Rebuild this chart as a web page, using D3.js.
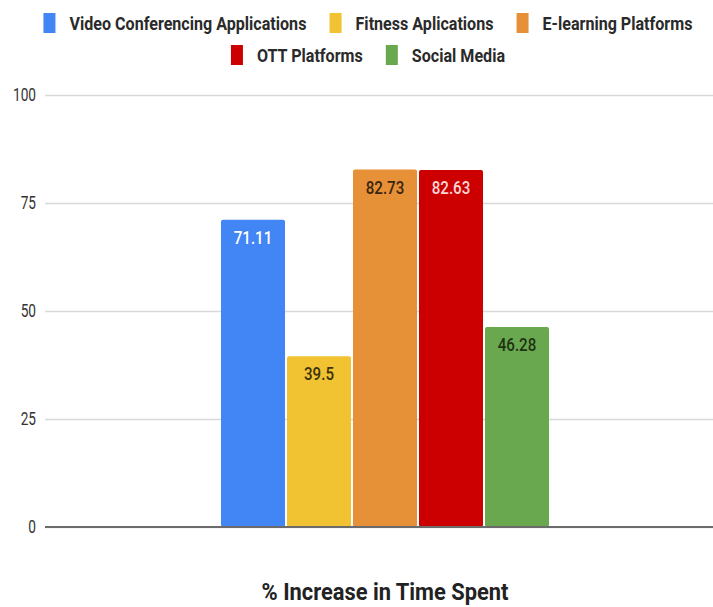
<!DOCTYPE html>
<html>
<head>
<meta charset="utf-8">
<script src="https://cdn.jsdelivr.net/npm/d3@7"></script>
<style>
  body { margin: 0; background: #fff; }
  text { font-family: Roboto, "Liberation Sans", sans-serif; }
</style>
</head>
<body>
<div class="canvas"></div>
<script>
// data
const series = ['Video Conferencing Applications', 'Fitness Aplications', 'E-learning Platforms', 'OTT Platforms', 'Social Media'];
const values = [71.11, 39.5, 82.73, 82.63, 46.28];
const colors = ['#4285f4', '#f1c232', '#e69138', '#cc0000', '#6aa84f'];
const labelColors = ['#ffffff', '#3b3308', '#3a2410', '#ffd6d6', '#1e3315'];
const yTicks = [0, 25, 50, 75, 100];
const xTitle = '% Increase in Time Spent';
const legendRows = [[0, 1, 2], [3, 4]];

const width = 713, height = 607;

const svg = d3.select('.canvas')
    .append('svg')
    .attr('width', width)
    .attr('height', height);

// scales
const y = d3.scaleLinear()
    .domain([0, 100])
    .range([527, 95]);

const x = d3.scaleBand()
    .domain(series)
    .range([221, 549])
    .paddingInner(0.03)
    .paddingOuter(0);

// gridlines + y labels
const yAxis = d3.axisLeft(y)
    .tickValues(yTicks)
    .tickSize(-(width - 45))
    .tickPadding(9);

const yAxisGroup = svg.append('g')
    .attr('transform', 'translate(45, 0)')
    .call(yAxis);

yAxisGroup.select('.domain').remove();
yAxisGroup.selectAll('line')
    .attr('stroke', '#d9d9d9')
    .attr('stroke-width', 1.5);
yAxisGroup.selectAll('text')
    .attr('fill', '#333')
    .attr('font-size', 18)
    .attr('transform', function() {
        const tx = +d3.select(this).attr('x');
        return `translate(${tx}, 0) scale(0.76, 1) translate(${-tx}, 0)`;
    });

// bars
svg.selectAll('rect.bar')
    .data(values)
    .enter()
    .append('rect')
    .attr('class', 'bar')
    .attr('x', (d, i) => x(series[i]))
    .attr('y', d => y(d))
    .attr('width', x.bandwidth())
    .attr('height', d => y(0) - y(d))
    .attr('rx', 2)
    .attr('fill', (d, i) => colors[i]);

// baseline over bars
svg.append('line')
    .attr('x1', 45)
    .attr('x2', width)
    .attr('y1', y(0))
    .attr('y2', y(0))
    .attr('stroke', '#6b6b6b')
    .attr('stroke-width', 2);

// value labels
svg.selectAll('text.val')
    .data(values)
    .enter()
    .append('text')
    .attr('class', 'val')
    .attr('x', (d, i) => x(series[i]) + x.bandwidth() / 2)
    .attr('y', d => y(d) + 24)
    .attr('text-anchor', 'middle')
    .attr('font-size', 18)
    .attr('font-weight', 500)
    .attr('fill', (d, i) => labelColors[i])
    .attr('transform', function() {
        const tx = +d3.select(this).attr('x');
        return `translate(${tx}, 0) scale(0.84, 1) translate(${-tx}, 0)`;
    })
    .text(d => d);

// legend
const sx = 0.87;
const legend = svg.append('g');
legendRows.forEach((row, r) => {
    const cy = 23 + r * 32;
    const g = legend.append('g');
    let pos = 0;
    row.forEach((idx, k) => {
        g.append('rect')
            .attr('x', pos)
            .attr('y', cy - 10)
            .attr('width', 12)
            .attr('height', 20)
            .attr('fill', colors[idx]);
        const t = g.append('text')
            .attr('x', 0)
            .attr('y', cy)
            .attr('dy', '0.36em')
            .attr('font-size', 18.5)
            .attr('font-weight', 'bold')
            .attr('fill', '#2a2a2a')
            .text(series[idx]);
        const w = t.node().getComputedTextLength() * sx;
        t.attr('transform', `translate(${pos + 26}, 0) scale(${sx}, 1)`);
        pos += 26 + w + (k < row.length - 1 ? 23 : 0);
    });
    g.attr('transform', `translate(${368 - pos / 2}, 0)`);
});

// x title
svg.append('text')
    .attr('x', 0)
    .attr('y', 600)
    .attr('text-anchor', 'middle')
    .attr('font-size', 23.5)
    .attr('font-weight', 'bold')
    .attr('fill', '#222')
    .attr('transform', `translate(385, 0) scale(0.93, 1)`)
    .text(xTitle);
</script>
</body>
</html>
